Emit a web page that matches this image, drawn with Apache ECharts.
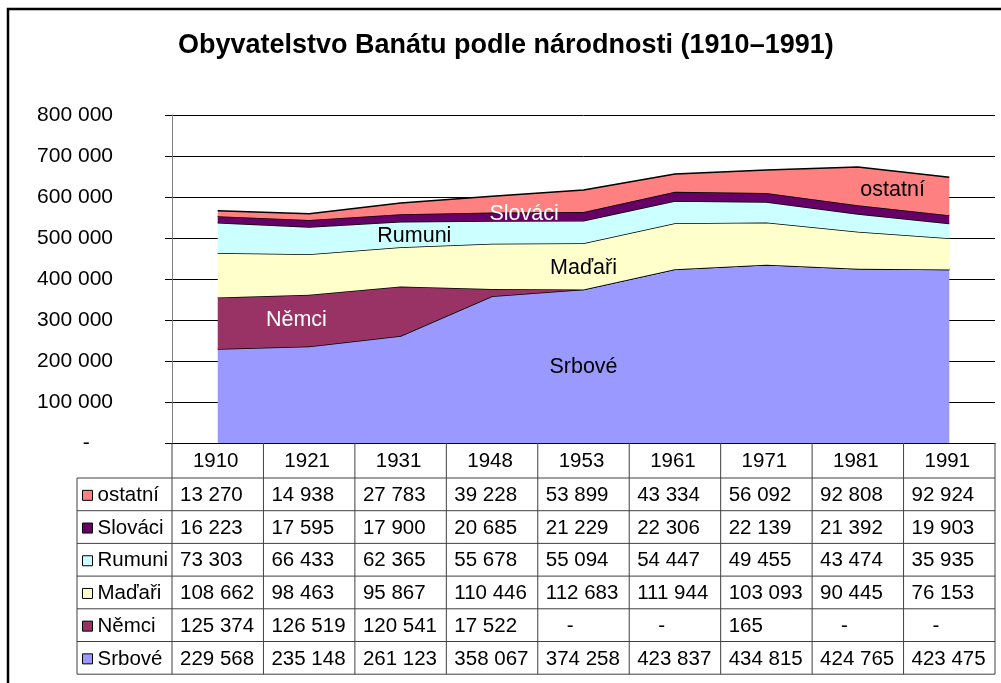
<!DOCTYPE html>
<html>
<head>
<meta charset="utf-8">
<script src="https://cdn.jsdelivr.net/npm/echarts@6/dist/echarts.min.js"></script>
<style>
  html, body { margin: 0; padding: 0; background: #fff; }
  #chart { width: 1001px; height: 683px; }
</style>
</head>
<body>
<div id="chart"></div>
<script>
// Census years (category axis / table header)
const years = ['1910', '1921', '1931', '1948', '1953', '1961', '1971', '1981', '1991'];

// Population by nationality, bottom of the stack first
const srbove  = [229568, 235148, 261123, 358067, 374258, 423837, 434815, 424765, 423475];
const nemci   = [125374, 126519, 120541, 17522, 0, 0, 165, 0, 0];
const madari  = [108662, 98463, 95867, 110446, 112683, 111944, 103093, 90445, 76153];
const rumuni  = [73303, 66433, 62365, 55678, 55094, 54447, 49455, 43474, 35935];
const slovaci = [16223, 17595, 17900, 20685, 21229, 22306, 22139, 21392, 19903];
const ostatni = [13270, 14938, 27783, 39228, 53899, 43334, 56092, 92808, 92924];

// Series names in stacking order
const names = ['Srbové', 'Němci', 'Maďaři', 'Rumuni', 'Slováci', 'ostatní'];
const values = [srbove, nemci, madari, rumuni, slovaci, ostatni];
const colors = ['#9999FF', '#993366', '#FFFFCC', '#CCFFFF', '#660066', '#FF8080'];

// Where each in-chart series label sits: [category position, value]
const labelAnchors = {
  'Srbové':  [4.0, 185000],
  'Němci':   [0.86, 300000],
  'Maďaři':  [4.0, 426000],
  'Rumuni':  [2.15, 504000],
  'Slováci': [3.35, 558000],
  'ostatní': [7.38, 616000]
};
const labelColors = { 'Srbové': '#000', 'Němci': '#fff', 'Maďaři': '#000', 'Rumuni': '#000', 'Slováci': '#fff', 'ostatní': '#000' };

const FONT = '"Liberation Sans", Arial, sans-serif';
const FS = 20.5;      // table text
const FS_AXIS = 21;   // value axis labels
const FS_LABEL = 21.5; // labels inside the areas

function fmt(v) {
  return String(v).replace(/\B(?=(\d{3})+(?!\d))/g, ' ');
}

const chart = echarts.init(document.getElementById('chart'), null, { renderer: 'canvas' });

const option = {
  animation: false,
  backgroundColor: '#fff',
  title: {
    text: 'Obyvatelstvo Banátu podle národnosti (1910–1991)',
    left: 178,
    top: 32,
    padding: 0,
    textStyle: { fontFamily: FONT, fontWeight: 'bold', fontSize: 27, color: '#000' }
  },
  grid: { left: 172, right: 6, top: 115, bottom: 240 },
  xAxis: {
    type: 'category',
    data: years,
    boundaryGap: true,
    axisLine: { show: true, lineStyle: { color: '#000', width: 1 } },
    axisTick: { show: false },
    axisLabel: { show: false },
    splitLine: { show: false }
  },
  yAxis: {
    type: 'value',
    min: 0,
    max: 800000,
    interval: 100000,
    axisLine: { show: true, lineStyle: { color: '#808080', width: 1 } },
    axisTick: { show: true, length: 7, lineStyle: { color: '#000' } },
    splitLine: { show: true, lineStyle: { color: '#000', width: 1 } },
    axisLabel: {
      margin: 59,
      color: '#000',
      fontFamily: FONT,
      fontSize: FS_AXIS,
      formatter: v => (v === 0 ? '-    ' : fmt(v))
    }
  },
  series: names.map((n, i) => ({
    name: n,
    type: 'line',
    stack: 'total',
    data: values[i],
    symbol: 'none',
    lineStyle: { color: '#000', width: 1.5 },
    areaStyle: { color: colors[i], opacity: 1 },
    z: 2 + i
  }))
};

chart.setOption(option);

// Data table, series labels and outer frame drawn from the axis scales
function buildGraphics() {
  const cx = i => chart.convertToPixel({ xAxisIndex: 0 }, i);
  const cy = v => chart.convertToPixel({ yAxisIndex: 0 }, v);
  const x0 = cx(0);
  const band = cx(1) - x0;
  const colLeft = i => x0 + (i - 0.5) * band;
  const tableRight = colLeft(years.length);
  const yBase = cy(0);
  const headerH = 35;
  const rowH = 32.7;
  const legendLeft = 77;
  const lineColor = '#404040';
  const g = [];

  const line = (x1, y1, x2, y2, color, w) => g.push({
    type: 'line', shape: { x1, y1, x2, y2 },
    style: { stroke: color || lineColor, lineWidth: w || 1 }, z: 50
  });
  const text = (t, x, y, align, fill, size, weight) => g.push({
    type: 'text', x, y, z: 60,
    style: {
      text: t, fill: fill || '#000', align: align || 'left', verticalAlign: 'middle',
      font: (weight || 'normal') + ' ' + (size || FS) + 'px ' + FONT
    }
  });

  const rowOrder = names.slice().reverse();
  const tableBottom = yBase + headerH + rowH * rowOrder.length;

  // vertical borders of the value columns
  for (let i = 0; i <= years.length; i++) {
    line(colLeft(i), yBase, colLeft(i), tableBottom);
  }
  // legend column left border
  line(legendLeft, yBase + headerH, legendLeft, tableBottom);
  // horizontal rules
  for (let r = 0; r <= rowOrder.length; r++) {
    const y = yBase + headerH + r * rowH;
    line(legendLeft, y, tableRight, y);
  }

  // year headers
  years.forEach((yr, i) => text(yr, cx(i) - 2, yBase + headerH / 2 + 1, 'center'));

  // rows
  rowOrder.forEach((n, r) => {
    const si = names.indexOf(n);
    const yc = yBase + headerH + r * rowH + rowH / 2 + 1;
    g.push({
      type: 'rect', z: 60,
      shape: { x: 82.5, y: yc - 5, width: 10, height: 10 },
      style: { fill: colors[si], stroke: '#000', lineWidth: 1 }
    });
    text(n, 97.5, yc, 'left');
    values[si].forEach((v, i) => {
      if (v === 0) text('-', colLeft(i) + 29, yc, 'left');
      else text(fmt(v), colLeft(i) + 8, yc, 'left');
    });
  });

  // series labels inside the areas
  names.forEach(n => {
    const [p, v] = labelAnchors[n];
    const i0 = Math.floor(p);
    const x = cx(i0) + (p - i0) * band;
    text(n, x, cy(v), 'center', labelColors[n], FS_LABEL);
  });

  // outer frame
  g.push({
    type: 'rect', z: 70,
    shape: { x: 8, y: 9, width: 1020, height: 700 },
    style: { fill: 'none', stroke: '#000', lineWidth: 2.5 }
  });

  chart.setOption({ graphic: g });
}

buildGraphics();
</script>
</body>
</html>
